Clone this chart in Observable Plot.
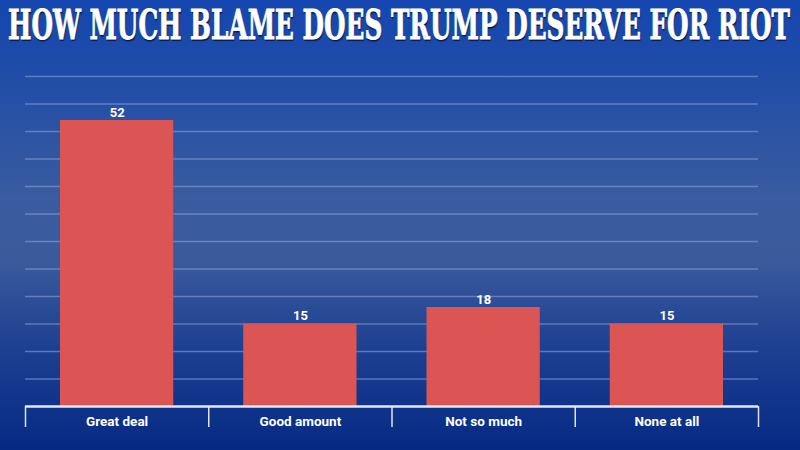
<!DOCTYPE html>
<html>
<head>
<meta charset="utf-8">
<script src="https://cdn.jsdelivr.net/npm/d3@7"></script>
<script src="https://cdn.jsdelivr.net/npm/@observablehq/plot@0.6"></script>
<style>
  html, body { margin: 0; padding: 0; }
  body {
    width: 800px; height: 450px; overflow: hidden;
    background: linear-gradient(to bottom, #1546b0 0%, #1f4ca8 15%, #3a5c9f 45%, #3a5a9c 58%, #1c3f91 78%, #062a84 100%);
  }
  #title {
    position: relative; width: 800px; height: 48px; overflow: hidden;
  }
  #title span {
    position: absolute; left: 8px; top: 1px; white-space: nowrap;
    font-family: "DejaVu Serif Condensed", "DejaVu Serif", serif;
    font-weight: bold; font-size: 41px; line-height: 48px; color: #ffffff;
    -webkit-text-stroke: 0.8px #ffffff;
    text-shadow: 1px 1.5px 1px rgba(5, 20, 60, 0.85);
    transform-origin: 0 50%;
  }
  #chart svg { display: block; background: transparent; }
</style>
</head>
<body>
<div id="title"><span>HOW MUCH BLAME DOES TRUMP DESERVE FOR RIOT</span></div>
<div id="chart"></div>
<script>
// Survey answers and their shares (%)
const categories = ["Great deal", "Good amount", "Not so much", "None at all"];
const values = [52, 15, 18, 15];
const gridTicks = [5, 10, 15, 20, 25, 30, 35, 40, 45, 50, 55, 60];

// squeeze the headline so it spans the page width
const head = document.querySelector("#title span");
head.style.transform = `scaleX(${782 / head.getBoundingClientRect().width})`;

const rows = categories.map((c, i) => ({category: c, value: values[i], i}));

const chart = Plot.plot({
  width: 800,
  height: 402,
  marginTop: 28,
  marginBottom: 44,
  marginLeft: 25,
  marginRight: 42,
  style: {background: "transparent", color: "white", fontFamily: "Roboto, sans-serif"},
  x: {type: "linear", domain: [0, categories.length], axis: null, label: null},
  y: {domain: [0, 60], axis: null, label: null},
  marks: [
    Plot.gridY(gridTicks, {stroke: "#8fa6d8", strokeOpacity: 0.55, strokeWidth: 1.5}),
    Plot.rectY(rows, {x1: "i", x2: d => d.i + 1, y: "value", fill: "#dc5555", insetLeft: 35, insetRight: 35}),
    Plot.text(rows, {x: d => d.i + 0.5, y: "value", text: d => String(d.value), dy: -8,
      fill: "white", fontSize: 13, fontWeight: "bold"}),
    // category separators hanging below the baseline
    Plot.axisX(d3.range(categories.length + 1), {tickSize: 21, stroke: "#dfe5f2", strokeWidth: 1.5,
      tickFormat: () => "", label: null}),
    // category names
    Plot.axisX(categories.map((c, i) => i + 0.5), {tickSize: 0, tickPadding: 10, label: null,
      tickFormat: d => categories[Math.floor(d)], fill: "white", fontSize: 13.5, fontWeight: "bold"}),
    Plot.ruleY([0], {stroke: "#e4e9f4", strokeWidth: 2.5})
  ]
});
document.getElementById("chart").append(chart);
</script>
</body>
</html>
